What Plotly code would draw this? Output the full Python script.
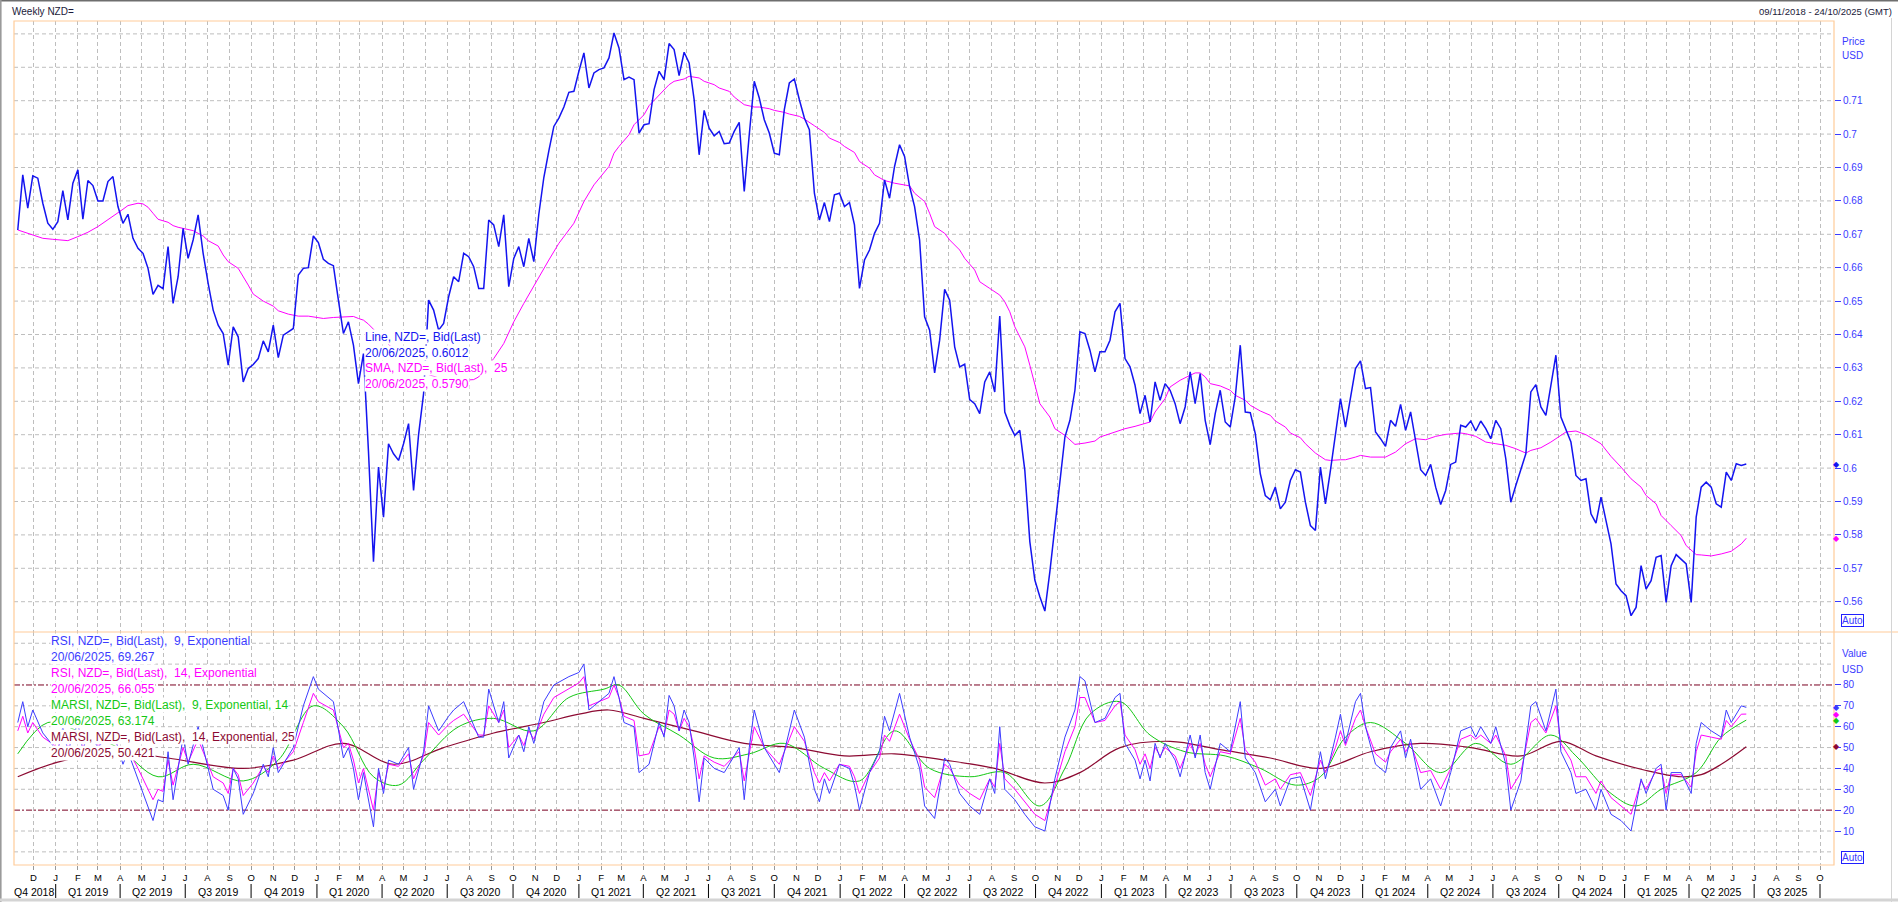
import datetime as dt
import plotly.graph_objects as go

# ---------------- data ----------------
START = dt.date(2018, 11, 9)          # first weekly bar (Friday)

price = [
 0.6713,0.6878,0.6778,0.6875,0.6868,0.6793,0.6733,0.6715,0.6738,0.6831,
 0.6743,0.6853,0.6893,0.6745,0.6861,0.6846,0.6800,0.6800,0.6858,0.6873,
 0.6783,0.6733,0.6760,0.6688,0.6658,0.6643,0.6598,0.6520,0.6547,0.6537,
 0.6663,0.6493,0.6573,0.6718,0.6628,0.6683,0.6758,0.6643,0.6553,0.6473,
 0.6428,0.6403,0.6308,0.6423,0.6393,0.6258,0.6298,0.6310,0.6328,0.6381,
 0.6348,0.6428,0.6331,0.6398,0.6408,0.6418,0.6578,0.6598,0.6600,0.6695,
 0.6675,0.6625,0.6613,0.6606,0.6503,0.6403,0.6438,0.6368,0.6253,0.6343,
 0.6050,0.5720,0.6003,0.5853,0.6073,0.6043,0.6023,0.6073,0.6133,0.5933,
 0.6100,0.6223,0.6503,0.6473,0.6413,0.6433,0.6513,0.6573,0.6558,0.6643,
 0.6633,0.6603,0.6538,0.6538,0.6743,0.6728,0.6663,0.6758,0.6543,0.6628,
 0.6663,0.6603,0.6688,0.6618,0.6760,0.6870,0.6950,0.7023,0.7048,0.7081,
 0.7125,0.7128,0.7188,0.7243,0.7138,0.7183,0.7193,0.7198,0.7228,0.7303,
 0.7258,0.7163,0.7171,0.7163,0.7003,0.7028,0.7031,0.7133,0.7188,0.7163,
 0.7271,0.7253,0.7175,0.7245,0.7213,0.7103,0.6938,0.7071,0.7018,0.6995,
 0.7008,0.6971,0.6973,0.7008,0.7035,0.6828,0.6998,0.7158,0.7108,0.7043,
 0.7003,0.6943,0.6938,0.7073,0.7153,0.7165,0.7103,0.7048,0.7013,0.6823,
 0.6743,0.6795,0.6738,0.6818,0.6823,0.6783,0.6795,0.6728,0.6538,0.6623,
 0.6653,0.6703,0.6733,0.6863,0.6808,0.6903,0.6968,0.6933,0.6843,0.6783,
 0.6683,0.6453,0.6413,0.6285,0.6383,0.6535,0.6503,0.6363,0.6303,0.6311,
 0.6205,0.6193,0.6163,0.6258,0.6288,0.6228,0.6455,0.6168,0.6128,0.6098,
 0.6113,0.5993,0.5780,0.5665,0.5615,0.5572,0.5690,0.5820,0.5963,0.6093,
 0.6143,0.6233,0.6408,0.6403,0.6353,0.6288,0.6348,0.6348,0.6383,0.6468,
 0.6493,0.6328,0.6303,0.6248,0.6163,0.6218,0.6138,0.6258,0.6203,0.6253,
 0.6233,0.6193,0.6133,0.6183,0.6288,0.6193,0.6283,0.6143,0.6070,0.6163,
 0.6233,0.6138,0.6123,0.6213,0.6368,0.6168,0.6166,0.6103,0.5983,0.5918,
 0.5905,0.5943,0.5878,0.5898,0.5963,0.5995,0.5988,0.5898,0.5828,0.5813,
 0.6003,0.5893,0.5993,0.6103,0.6208,0.6123,0.6213,0.6298,0.6321,0.6238,
 0.6241,0.6108,0.6088,0.6065,0.6143,0.6125,0.6191,0.6113,0.6168,0.6083,
 0.5995,0.5978,0.6011,0.5943,0.5891,0.5933,0.6011,0.6018,0.6128,0.6123,
 0.6141,0.6111,0.6141,0.6118,0.6088,0.6143,0.6118,0.6028,0.5898,0.5948,
 0.5993,0.6043,0.6228,0.6250,0.6183,0.6158,0.6248,0.6338,0.6153,0.6113,
 0.6078,0.5978,0.5963,0.5968,0.5863,0.5835,0.5913,0.5843,0.5773,0.5653,
 0.5633,0.5618,0.5558,0.5583,0.5708,0.5638,0.5663,0.5733,0.5738,0.5598,
 0.5708,0.5741,0.5728,0.5713,0.5598,0.5853,0.5943,0.5958,0.5943,0.5893,
 0.5883,0.5988,0.5963,0.6013,0.6008,0.6012,
]

sma_week = [0,2,4,5,7,8,10,12,14,16,18,19,21,22,24,25,26,27,28,30,31,32,33,35,36,37,38,40,41,42,
            44,45,46,47,49,51,52,54,56,58,60,61,63,66,67,68,69,70,71,74,78,82,86,91,92,95,97,99,101,104,
            106,108,111,113,115,118,119,120,122,123,125,126,128,130,131,133,134,136,137,139,140,142,143,145,147,148,150,151,153,154,
            156,157,159,161,162,164,165,167,168,170,171,173,175,176,178,179,181,182,183,185,186,188,189,191,192,194,196,197,198,199,
            201,202,203,204,206,207,209,210,211,213,215,216,218,220,221,223,224,226,227,229,230,232,234,235,236,237,238,240,242,243,
            245,246,248,250,251,253,254,256,257,259,261,262,264,265,267,268,270,273,275,277,279,281,283,285,288,289,291,293,295,297,
            299,301,302,304,306,308,309,311,313,316,318,320,322,324,325,327,328,330,332,333,335,336,338,340,342,344,345]
sma_value = [0.6713,0.6703,0.6693,0.6688,0.6685,0.6683,0.6681,0.6693,0.6706,0.6723,0.6743,0.6753,0.6775,0.6786,0.6793,0.6791,0.6781,0.6763,0.6745,0.6736,
             0.6726,0.6721,0.6718,0.6711,0.6703,0.6695,0.6681,0.6665,0.6638,0.6618,0.6598,0.6575,0.6548,0.6521,0.6500,0.6485,0.6471,0.6461,0.6455,0.6455,
             0.6451,0.6448,0.6451,0.6453,0.6454,0.6448,0.6443,0.6431,0.6415,0.6370,0.6320,0.6280,0.6260,0.6265,0.6273,0.6328,0.6373,0.6438,0.6493,0.6573,
             0.6623,0.6673,0.6733,0.6798,0.6848,0.6903,0.6943,0.6963,0.6998,0.7028,0.7058,0.7085,0.7118,0.7148,0.7158,0.7165,0.7173,0.7168,0.7158,0.7148,
             0.7138,0.7128,0.7111,0.7088,0.7081,0.7081,0.7076,0.7071,0.7065,0.7060,0.7053,0.7045,0.7025,0.7005,0.6988,0.6975,0.6963,0.6945,0.6918,0.6898,
             0.6878,0.6861,0.6853,0.6851,0.6845,0.6823,0.6798,0.6763,0.6723,0.6703,0.6683,0.6653,0.6628,0.6593,0.6558,0.6538,0.6518,0.6498,0.6468,0.6423,
             0.6363,0.6308,0.6253,0.6193,0.6153,0.6118,0.6098,0.6083,0.6071,0.6075,0.6081,0.6093,0.6103,0.6115,0.6118,0.6125,0.6130,0.6138,0.6168,0.6208,
             0.6243,0.6263,0.6278,0.6285,0.6285,0.6273,0.6253,0.6246,0.6233,0.6218,0.6203,0.6188,0.6171,0.6158,0.6141,0.6123,0.6105,0.6091,0.6073,0.6045,
             0.6025,0.6023,0.6025,0.6025,0.6033,0.6038,0.6033,0.6033,0.6048,0.6073,0.6088,0.6085,0.6095,0.6101,0.6105,0.6103,0.6095,0.6078,0.6073,0.6068,
             0.6058,0.6045,0.6053,0.6061,0.6078,0.6098,0.6108,0.6111,0.6100,0.6073,0.6035,0.6003,0.5968,0.5943,0.5918,0.5893,0.5858,0.5828,0.5798,0.5768,
             0.5741,0.5740,0.5737,0.5743,0.5751,0.5773,0.5790]

# RSI panel, read at the turning points of the lines
rsi_week = [0,1,2,3,5,8,9,10,12,13,14,16,19,21,22,24,27,28,29,30,31,33,34,36,39,41,42,43,44,45,
            47,49,50,51,52,55,57,59,60,63,65,66,67,68,69,71,72,73,74,76,77,78,79,81,82,84,86,87,89,92,
            93,94,96,97,98,100,101,102,103,105,107,110,112,113,114,116,118,119,120,121,123,124,126,128,129,130,131,132,133,134,
            135,136,137,139,141,143,144,145,146,147,149,152,155,157,159,160,161,162,164,166,167,168,170,172,173,174,176,178,180,181,
            183,185,186,188,190,192,194,195,196,197,199,201,203,205,207,209,211,212,213,215,217,219,220,221,223,224,225,226,227,228,
            229,231,232,234,235,236,237,238,240,242,244,245,247,249,251,252,254,256,258,260,261,263,264,265,267,268,269,271,273,274,
            276,277,278,280,282,284,286,288,290,291,292,294,295,297,298,300,302,303,305,307,308,310,311,313,315,316,318,320,322,324,
            325,327,328,329,330,332,334,335,336,338,340,341,342,344,345]
rsi9 = [62,72,60,68,57,48,60,48,62,48,58,50,58,42,48,35,15,25,24,48,25,55,42,60,30,27,20,40,35,18,
        28,42,36,50,38,50,70,84,78,72,45,50,40,25,38,12,40,28,44,42,46,50,30,48,70,58,65,68,72,55,
        55,78,62,72,45,56,48,60,52,72,80,84,86,90,68,72,76,84,74,62,60,38,42,62,55,75,70,58,68,62,
        45,24,45,40,38,46,50,25,50,68,50,38,68,55,30,24,35,28,42,40,32,20,38,48,65,58,76,55,40,22,
        16,45,42,28,22,18,35,28,60,30,25,18,12,10,35,55,68,84,82,62,64,74,76,52,44,35,44,34,52,45,
        52,44,36,56,45,56,38,30,52,48,72,45,38,24,30,22,35,36,20,48,35,55,66,52,72,76,60,42,38,50,
        58,45,54,30,35,22,38,58,60,55,60,52,60,42,20,34,70,72,58,78,48,38,28,30,20,30,18,15,10,35,
        28,40,42,20,38,38,28,52,62,58,55,68,62,70,69.267]
rsi14 = [58,65,57,62,55,50,56,50,58,50,55,51,55,46,49,40,25,30,29,44,32,50,43,54,36,33,28,40,37,27,
         33,41,38,46,40,48,62,76,72,68,50,52,44,33,40,20,38,30,42,41,44,47,35,46,62,56,61,63,66,56,
         56,70,62,68,50,56,51,58,54,66,74,78,81,84,70,72,74,80,74,65,63,46,47,60,56,68,66,58,64,60,
         50,35,46,43,41,46,48,34,47,60,50,42,60,53,38,33,38,34,42,41,36,28,38,45,56,53,66,54,44,31,
         26,42,40,32,28,25,35,31,52,35,30,24,18,15,32,48,60,74,74,62,63,70,72,56,49,42,47,40,50,46,
         50,46,40,52,46,52,42,36,48,47,64,49,43,32,35,30,37,38,27,44,38,50,58,51,64,68,60,47,43,48,
         54,48,52,38,39,30,40,54,56,54,56,52,56,46,30,38,62,64,57,70,52,44,36,36,28,34,26,22,18,34,
         30,39,40,28,37,37,31,48,56,55,54,63,60,66,66.055]
marsi9_week = [0,6,12,20,28,35,45,52,59,65,71,76,81,88,95,103,110,117,120,125,132,139,146,153,161,168,175,182,190,197,
               204,209,214,220,226,233,241,248,255,260,265,270,277,284,291,298,306,311,318,323,328,335,340,345]
marsi9 = [47,62,58,50,36,42,34,44,70,60,36,32,44,60,64,58,74,78,80,66,56,45,47,52,40,34,58,40,36,38,
          22,40,66,72,56,48,46,40,32,36,55,62,52,38,52,42,56,46,28,22,30,38,55,63.174]
marsi14_week = [0,8,20,30,45,55,65,75,85,95,105,112,118,125,135,145,155,165,175,185,195,205,212,220,230,240,250,260,270,280,
                290,300,308,315,325,332,336,340,345]
marsi14 = [36,43,48,45,40,44,52,42,50,57,62,66,68,64,58,52,50,46,47,44,40,33,38,50,53,49,45,40,48,52,
           50,46,53,46,39,36,37,42,50.421]

month_letters = "JFMAMJJASOND"

# ---------------- geometry helpers ----------------
W, H = 1898, 902
ML, MR, MT, MB = 14, 64, 21, 37
PW, PH = W - ML - MR, H - MT - MB
SPLIT = 632  # pixel row separating the two panels


def px_x(px):
    return (px - ML) / PW


def px_y(py):
    return (H - MB - py) / PH


def wk(i):
    return START + dt.timedelta(days=7 * i)


X0 = dt.datetime(2018, 11, 3, 18)
X1 = dt.datetime(2025, 10, 20, 13)

BLUE = "#1414F0"
RSI_BLUE = "#3C3CFF"
MAG = "#FF00FF"
GREEN = "#14C814"
DRED = "#8C0A32"
ORANGE = "#FFCC99"
GRID = "#BEBEBE"
AXBLUE = "#3A3AFF"
FONT = "Liberation Sans, Arial, sans-serif"
GRID_DASH = "4px,3px"

fig = go.Figure()

fig.add_trace(go.Scatter(x=[wk(i) for i in sma_week], y=sma_value, mode="lines",
                         line=dict(color=MAG, width=1), yaxis="y", hoverinfo="skip"))
fig.add_trace(go.Scatter(x=[wk(i) for i in range(len(price))], y=price, mode="lines",
                         line=dict(color=BLUE, width=1.5), yaxis="y", hoverinfo="skip"))

fig.add_trace(go.Scatter(x=[wk(i) for i in marsi14_week], y=marsi14, mode="lines", line_shape="spline",
                         line=dict(color=DRED, width=1.2), yaxis="y2", hoverinfo="skip"))
fig.add_trace(go.Scatter(x=[wk(i) for i in marsi9_week], y=marsi9, mode="lines", line_shape="spline",
                         line=dict(color=GREEN, width=1), yaxis="y2", hoverinfo="skip"))
fig.add_trace(go.Scatter(x=[wk(i) for i in rsi_week], y=rsi14, mode="lines",
                         line=dict(color=MAG, width=1), yaxis="y2", hoverinfo="skip"))
fig.add_trace(go.Scatter(x=[wk(i) for i in rsi_week], y=rsi9, mode="lines",
                         line=dict(color=RSI_BLUE, width=1), yaxis="y2", hoverinfo="skip"))

# month ticks
months = []
d = dt.date(2018, 12, 1)
while d <= dt.date(2025, 10, 1):
    months.append(d)
    d = dt.date(d.year + (d.month // 12), d.month % 12 + 1, 1)

split_frac = px_y(SPLIT)

price_ticks = [round(0.56 + 0.01 * k, 2) for k in range(16)]
price_grid = [round(0.56 + 0.01 * k, 2) for k in range(18)]
rsi_ticks = list(range(10, 90, 10))

fig.update_layout(
    width=W, height=H,
    margin=dict(l=ML, r=MR, t=MT, b=MB),
    paper_bgcolor="white", plot_bgcolor="white",
    showlegend=False,
    font=dict(family=FONT, size=10, color="#000"),
    xaxis=dict(type="date", range=[X0, X1], domain=[0, 1], anchor="y2",
               tickvals=months, ticktext=[month_letters[m.month - 1] for m in months],
               tickangle=0, showgrid=True, gridcolor=GRID, griddash=GRID_DASH, gridwidth=1,
               ticks="outside", ticklen=4, tickcolor="#999", tickfont=dict(size=9.5, color="#000"),
               showline=False, zeroline=False, fixedrange=True),
    yaxis=dict(domain=[split_frac, 1], range=[0.55093, 0.73386], side="right", anchor="x",
               tickvals=price_ticks, ticktext=[f"{v:g}" for v in price_ticks],
               ticks="outside", ticklen=6, tickcolor=AXBLUE, tickfont=dict(size=10, color=AXBLUE),
               showgrid=False, zeroline=False, showline=False),
    yaxis2=dict(domain=[0, split_frac], range=[-6.3, 105.4], side="right", anchor="x",
                tickvals=rsi_ticks, ticktext=[str(v) for v in rsi_ticks],
                ticks="outside", ticklen=6, tickcolor=AXBLUE, tickfont=dict(size=10, color=AXBLUE),
                showgrid=False, zeroline=False, showline=False),
)

shapes = []
for v in price_grid:
    shapes.append(dict(type="line", xref="paper", x0=0, x1=1, yref="y", y0=v, y1=v,
                       line=dict(color=GRID, width=1, dash=GRID_DASH), layer="below"))
for v in [0, 10, 30, 40, 50, 60, 70, 90, 100]:
    shapes.append(dict(type="line", xref="paper", x0=0, x1=1, yref="y2", y0=v, y1=v,
                       line=dict(color=GRID, width=1, dash=GRID_DASH), layer="below"))
for v in [20, 80]:
    shapes.append(dict(type="line", xref="paper", x0=0, x1=1, yref="y2", y0=v, y1=v,
                       line=dict(color="#7A0020", width=1, dash="6px,2px,2px,2px"), layer="between"))
# plot frame
shapes.append(dict(type="rect", xref="paper", yref="paper", x0=0, x1=1, y0=0, y1=1,
                   line=dict(color=ORANGE, width=1.2), layer="above"))
shapes.append(dict(type="line", xref="paper", yref="paper", x0=0, x1=px_x(W), y0=split_frac, y1=split_frac,
                   line=dict(color=ORANGE, width=1.2), layer="above"))
# window border
shapes.append(dict(type="line", xref="paper", yref="paper", x0=px_x(0), x1=px_x(W), y0=px_y(0.8), y1=px_y(0.8),
                   line=dict(color="#6E6E6E", width=1.6)))
shapes.append(dict(type="line", xref="paper", yref="paper", x0=px_x(0.8), x1=px_x(0.8), y0=px_y(0), y1=px_y(H),
                   line=dict(color="#9A9A9A", width=1.6)))
shapes.append(dict(type="line", xref="paper", yref="paper", x0=px_x(1891.5), x1=px_x(1891.5), y0=px_y(18), y1=px_y(H),
                   line=dict(color="#D4D4D4", width=1)))
shapes.append(dict(type="line", xref="paper", yref="paper", x0=px_x(0), x1=px_x(W), y0=px_y(900), y1=px_y(900),
                   line=dict(color="#D4D4D4", width=3)))
# quarter separators
q_starts = [m for m in months if m.month in (1, 4, 7, 10)]
for q in q_starts:
    shapes.append(dict(type="line", xref="x", yref="paper", x0=q, x1=q, y0=px_y(884), y1=px_y(898),
                       line=dict(color="#000", width=1)))
fig.update_layout(shapes=shapes)

ann = []
ann.append(dict(text="Weekly NZD=", xref="paper", yref="paper", x=px_x(10), y=px_y(11),
                xanchor="left", yanchor="middle", showarrow=False, font=dict(size=10, color="#1A1A3A")))
ann.append(dict(text="09/11/2018 - 24/10/2025 (GMT)", xref="paper", yref="paper", x=px_x(1894), y=px_y(11),
                xanchor="right", yanchor="middle", showarrow=False, font=dict(size=9.5, color="#1A1A3A")))
for txt, py in [("Price", 42), ("USD", 55), ("Value", 653), ("USD", 669)]:
    ann.append(dict(text=txt, xref="paper", yref="paper", x=px_x(1840), y=px_y(py),
                    xanchor="left", yanchor="middle", showarrow=False, font=dict(size=10, color=AXBLUE)))
for py in [620.5, 857.5]:
    ann.append(dict(text="Auto", xref="paper", yref="paper", x=px_x(1841), y=px_y(py),
                    xanchor="left", yanchor="middle", showarrow=False, bordercolor="#2020FF", borderwidth=1,
                    borderpad=0, font=dict(size=10, color=AXBLUE)))
# quarter labels
q_bounds = [X0.date()] + q_starts
for a, b in zip(q_bounds[:-1], q_bounds[1:]):
    mid = a + (b - a) / 2
    qd = a if a.month in (1, 4, 7, 10) and a.day == 1 else b - dt.timedelta(days=1)
    label = f"Q{(qd.month - 1) // 3 + 1} {qd.year}"
    ann.append(dict(text=label, xref="x", yref="paper", x=mid, y=px_y(891.5),
                    xanchor="center", yanchor="middle", showarrow=False, font=dict(size=10.5, color="#000")))
# last-value markers on the axes
for val, col, yr in [(price[-1], BLUE, "y"), (sma_value[-1], MAG, "y"),
                     (rsi9[-1], RSI_BLUE, "y2"), (rsi14[-1], MAG, "y2"),
                     (marsi9[-1], GREEN, "y2"), (marsi14[-1], DRED, "y2")]:
    ann.append(dict(text="◆", xref="paper", yref=yr, x=px_x(1836.5), y=val, xanchor="center",
                    yanchor="middle", showarrow=False, font=dict(size=8, color=col)))
# legends
price_leg = [("Line, NZD=, Bid(Last)", BLUE), (f"20/06/2025, {price[-1]:.4f}", BLUE),
             ("SMA, NZD=, Bid(Last),\u00a0 25", MAG), (f"20/06/2025, {sma_value[-1]:.4f}", MAG)]
for k, (txt, col) in enumerate(price_leg):
    ann.append(dict(text=txt, xref="paper", yref="paper", x=px_x(364), y=px_y(337 + 15.6 * k),
                    xanchor="left", yanchor="middle", showarrow=False, bgcolor="white", borderpad=0,
                    font=dict(size=12, color=col)))
rsi_leg = [("RSI, NZD=, Bid(Last),\u00a0 9, Exponential", RSI_BLUE), (f"20/06/2025, {rsi9[-1]:.3f}", RSI_BLUE),
           ("RSI, NZD=, Bid(Last),\u00a0 14, Exponential", MAG), (f"20/06/2025, {rsi14[-1]:.3f}", MAG),
           ("MARSI, NZD=, Bid(Last),\u00a0 9, Exponential, 14", GREEN), (f"20/06/2025, {marsi9[-1]:.3f}", GREEN),
           ("MARSI, NZD=, Bid(Last),\u00a0 14, Exponential, 25", DRED), (f"20/06/2025, {marsi14[-1]:.3f}", DRED)]
for k, (txt, col) in enumerate(rsi_leg):
    ann.append(dict(text=txt, xref="paper", yref="paper", x=px_x(50), y=px_y(640.7 + 16 * k),
                    xanchor="left", yanchor="middle", showarrow=False, bgcolor="white", borderpad=0,
                    font=dict(size=12, color=col)))
fig.update_layout(annotations=ann)

fig.write_html("out.html", config={"displayModeBar": False},
               post_script="document.body.style.margin='0px';document.body.style.overflow='hidden';")
